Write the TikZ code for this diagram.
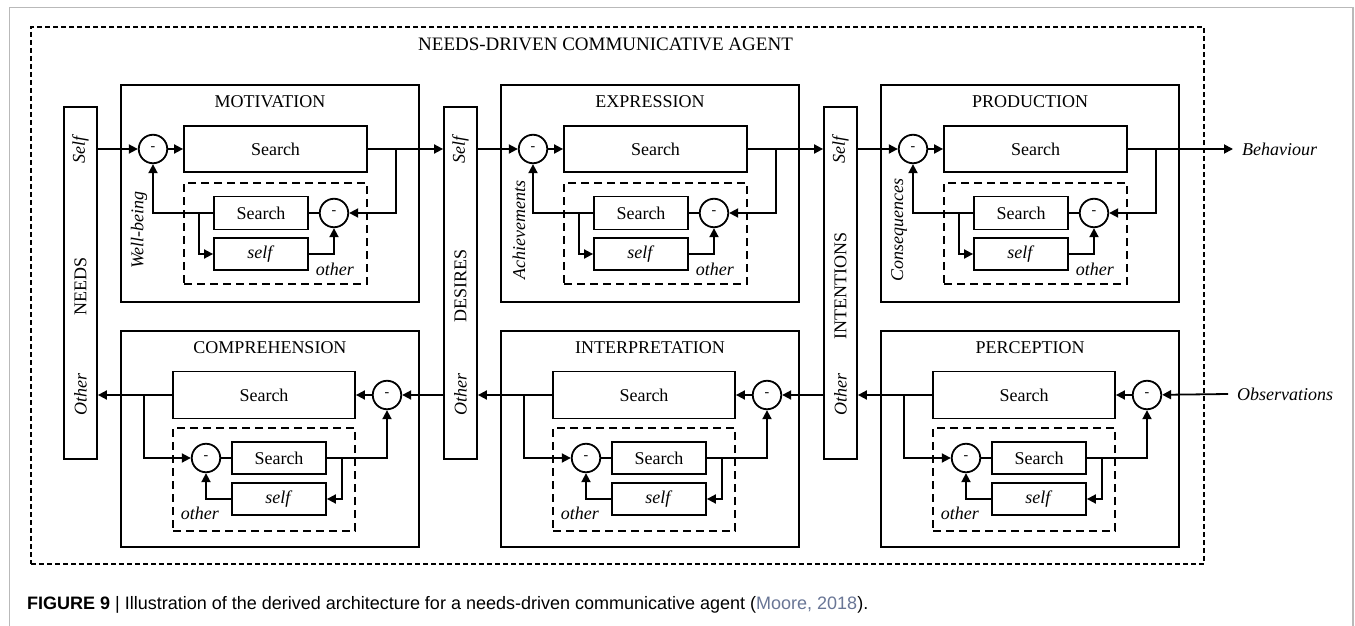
\documentclass[tikz,border=0pt]{standalone}
\usepackage{fontspec}
\setmainfont{Liberation Serif}
\newfontfamily\capfam{Liberation Sans}
\usetikzlibrary{arrows.meta}
\definecolor{citeblue}{RGB}{105,118,150}
\definecolor{framegray}{RGB}{185,185,185}

\newcommand\topunit[4]{%
  \node[ubox, minimum width=298pt, minimum height=217pt] (#1-box) at ({#2+149},193.5) {};
  \node (#1-title) at ({#2+149},102) {#3};
  \node[sumc] (#1-c) at ({#2+32},149) {-};
  \node[ubox, minimum width=183pt, minimum height=46pt] (#1-s) at ({#2+154.5},149) {Search};
  \node[dbox, minimum width=183pt, minimum height=101pt] (#1-d) at ({#2+154.5},233.5) {};
  \node[ubox, minimum width=94pt, minimum height=33pt] (#1-is) at ({#2+140},213) {Search};
  \node[sumc] (#1-ic) at ({#2+213},213) {-};
  \node[ubox, minimum width=94pt, minimum height=32pt] (#1-sf) at ({#2+140},254) {\textit{self}};
  \node[inner sep=0] (#1-ot) at ({#2+214},269) {\textit{other}};
  \node[lab] (#1-lab) at ({#2+18},230) {#4};
  \coordinate (#1-br) at ({#2+275},149);
  \coordinate (#1-lb) at ({#2+78},213);
  \draw[arr] (#1-c) -- (#1-s);
  \draw[arr] (#1-br) |- (#1-ic);
  \draw[ln] (#1-is) -- (#1-ic);
  \draw[arr] (#1-is.west) -| (#1-c);
  \draw[arr] (#1-lb) |- (#1-sf);
  \draw[arr] (#1-sf) -| (#1-ic);
}

\newcommand\botunit[3]{%
  \node[ubox, minimum width=298pt, minimum height=216pt] (#1-box) at ({#2+149},439) {};
  \node (#1-title) at ({#2+149},348) {#3};
  \node[sumc] (#1-c) at ({#2+266},395) {-};
  \node[ubox, minimum width=182pt, minimum height=47pt] (#1-s) at ({#2+143},395) {Search};
  \node[dbox, minimum width=182pt, minimum height=103pt] (#1-d) at ({#2+143},479.5) {};
  \node[sumc] (#1-ic) at ({#2+85},458) {-};
  \node[ubox, minimum width=94pt, minimum height=32pt] (#1-is) at ({#2+158},458) {Search};
  \node[ubox, minimum width=94pt, minimum height=32pt] (#1-sf) at ({#2+158},499) {\textit{self}};
  \node[inner sep=0] (#1-ot) at ({#2+79},513) {\textit{other}};
  \coordinate (#1-lb) at ({#2+23},395);
  \coordinate (#1-rb) at ({#2+221},458);
  \draw[arr] (#1-c) -- (#1-s);
  \draw[arr] (#1-lb) |- (#1-ic);
  \draw[ln] (#1-ic) -- (#1-is);
  \draw[arr] (#1-is.east) -| (#1-c);
  \draw[arr] (#1-rb) |- (#1-sf);
  \draw[arr] (#1-sf) -| (#1-ic);
}

\newcommand\sidebar[3]{%
  \node[ubox, minimum width=33pt, minimum height=352pt] (#1) at ({#2+16.5},283) {};
  \node[lab] (#1-self) at ({#2+16.5},150) {Self};
  \node[lab] (#1-other) at ({#2+16.5},394) {Other};
  \node[rotate=90, inner sep=0] (#1-name) at ({#2+16.5},286) {#3};
}

\begin{document}
\begin{tikzpicture}[x=1pt,y=-1pt, font=\fontsize{18}{21}\selectfont,
  ubox/.style={draw, line width=1.8pt, inner sep=0},
  dbox/.style={draw, line width=1.5pt, dash pattern=on 8pt off 5pt, inner sep=0},
  sumc/.style={draw, circle, line width=1.8pt, minimum size=28.5pt, inner sep=0, font=\fontsize{14}{14}\selectfont},
  ln/.style={line width=1.8pt},
  arr/.style={ln, -{Triangle[length=9pt,width=9pt]}},
  lab/.style={rotate=90, inner sep=0, font=\fontsize{18}{21}\selectfont\itshape}
]
\useasboundingbox (0,0) rectangle (1355,626);
\fill[white] (0,0) rectangle (1355,626);
\draw[framegray, line width=1.5pt] (9.5,626) -- (9.5,7.5) -- (1353,7.5) -- (1353,626);

% outer agent box
\node[draw, line width=1.3pt, dash pattern=on 5pt off 3pt, minimum width=1173pt, minimum height=537pt, inner sep=0] (agent) at (617.5,295.5) {};
\node[anchor=base west, inner sep=0, font=\fontsize{19}{22}\selectfont] (agent-title) at (418,51) {NEEDS-DRIVEN COMMUNICATIVE AGENT};

% bars
\sidebar{needs}{64}{NEEDS}
\sidebar{desires}{444}{DESIRES}
\sidebar{intentions}{824}{INTENTIONS}

% units
\topunit{m}{121}{MOTIVATION}{Well-being}
\topunit{e}{501}{EXPRESSION}{Achievements}
\topunit{p}{881}{PRODUCTION}{Consequences}
\botunit{c}{121}{COMPREHENSION}
\botunit{i}{501}{INTERPRETATION}
\botunit{pe}{881}{PERCEPTION}

% external texts
\node[anchor=west, inner sep=0, font=\fontsize{18}{21}\selectfont\itshape] (behav) at (1242,149) {Behaviour};
\node[anchor=west, inner sep=0, font=\fontsize{18}{21}\selectfont\itshape] (obs) at (1237,394) {Observations};

% top row connections
\draw[arr] (needs.east |- m-c) -- (m-c);
\draw[ln] (m-s.east) -- (m-br);
\draw[arr] (m-br) -- (desires.west |- m-br);
\draw[arr] (desires.east |- e-c) -- (e-c);
\draw[ln] (e-s.east) -- (e-br);
\draw[arr] (e-br) -- (intentions.west |- e-br);
\draw[arr] (intentions.east |- p-c) -- (p-c);
\draw[ln] (p-s.east) -- (p-br);
\draw[arr] (p-br) -- ([xshift=-9pt]behav.west);

% bottom row connections
\draw[ln] (c-s.west) -- (c-lb);
\draw[arr] (c-lb) -- (needs.east |- c-lb);
\draw[arr] (desires.west |- c-c) -- (c-c);
\draw[ln] (i-s.west) -- (i-lb);
\draw[arr] (i-lb) -- (desires.east |- i-lb);
\draw[arr] (intentions.west |- i-c) -- (i-c);
\draw[ln] (pe-s.west) -- (pe-lb);
\draw[arr] (pe-lb) -- (intentions.east |- pe-lb);
\draw[arr] ([xshift=-9pt]obs.west) -- (pe-c);

% caption
\node[anchor=base west, inner sep=0, font=\capfam\fontsize{18}{21}\selectfont] (caption) at (27,609)
  {\textbf{FIGURE 9} | Illustration of the derived architecture for a needs-driven communicative agent (\textcolor{citeblue}{Moore, 2018}).};
\end{tikzpicture}
\end{document}
